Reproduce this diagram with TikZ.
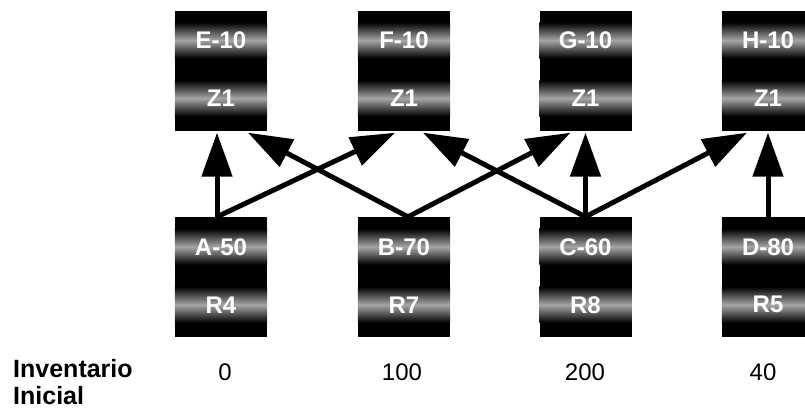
\documentclass[tikz,border=0pt]{standalone}
\usepackage{fontspec}
\setmainfont{Liberation Sans}
\usetikzlibrary{arrows.meta,calc}
\begin{document}
\begin{tikzpicture}[x=1pt,y=-1pt,
  boxnode/.style={fill=black, minimum width=92pt, minimum height=120pt, inner sep=0pt, draw=none},
  lbl/.style={text=white, inner sep=0pt, font=\bfseries\fontsize{24}{24}\selectfont},
  numlbl/.style={anchor=base, inner sep=0pt, font=\fontsize{24}{24}\selectfont},
  sidelbl/.style={anchor=base west, inner sep=0pt, font=\bfseries\fontsize{25}{29}\selectfont},
  arr/.style={line width=5pt, -{Triangle[length=44pt,width=30pt]}}]
\useasboundingbox (0,0) rectangle (805,408);
\clip (0,0) rectangle (805,408);
\fill[white] (0,0) rectangle (805,408);
% boxes
\foreach \n/\x/\y/\ta/\tb in {e/221/70.5/E-10/Z1, f/404/70.5/F-10/Z1, g/585.5/70.5/G-10/Z1, h/768/70.5/H-10/Z1,
                             a/221/277/A-50/R4, b/404/277/B-70/R7, c/585.5/277/C-60/R8, d/768/277/D-80/R5}{
  \node[boxnode] (\n) at (\x,\y) {};
  \shade[top color=black, bottom color=black, middle color=black!35]
    ($(\n.north west)+(0,12)$) rectangle ($(\n.north east)+(0,48)$);
  \shade[top color=black, bottom color=black, middle color=black!35]
    ($(\n.north west)+(0,70)$) rectangle ($(\n.north east)+(0,106)$);
  \node[lbl] (\n1) at ($(\n.north)+(0,30)$) {\ta};
  \node[lbl] (\n2) at ($(\n.north)+(0,88)$) {\tb};
}
% arrows
\draw[arr] ($(a.north)+(-4,0)$) -- ($(e.south)+(-4,2)$);
\draw[arr] ($(a.north)+(-4,0)$) -- ($(f.south)+(-9,2)$);
\draw[arr] ($(b.north)+(4,0)$) -- ($(e.south)+(27,2)$);
\draw[arr] ($(b.north)+(4,0)$) -- ($(g.south)+(-15,2)$);
\draw[arr] (c.north) -- ($(f.south)+(19,2)$);
\draw[arr] (c.north) -- ($(g.south)+(0,2)$);
\draw[arr] (c.north) -- ($(h.south)+(-21,2)$);
\draw[arr] (d.north) -- ($(h.south)+(0,2)$);
% labels
\node[sidelbl] (inv) at (13,377) {Inventario};
\node[sidelbl] (ini) at (13,404) {Inicial};
\node[numlbl] (n0) at (225,380) {0};
\node[numlbl] (n1) at (402,380) {100};
\node[numlbl] (n2) at (585,380) {200};
\node[numlbl] (n3) at (763,380) {40};
\end{tikzpicture}
\end{document}
